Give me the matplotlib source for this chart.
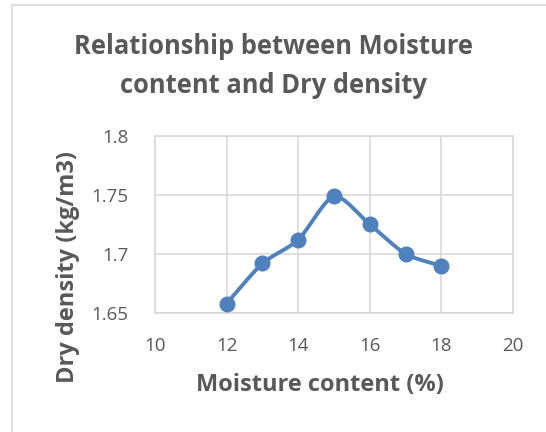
import numpy as np
from matplotlib import pyplot as plt
from matplotlib.path import Path
from matplotlib.patches import PathPatch, Rectangle

# data
moisture = [12, 13, 14, 15, 16, 17, 18]
dry_density = [1.658, 1.692, 1.712, 1.749, 1.725, 1.700, 1.690]
x_ticks = [10, 12, 14, 16, 18, 20]
y_ticks = [1.65, 1.7, 1.75, 1.8]
y_tick_labels = ['1.65', '1.7', '1.75', '1.8']

blue = '#4f81bd'
grey_txt = '#595959'
grid_c = '#d9d9d9'

plt.rcParams['font.family'] = ['Open Sans', 'DejaVu Sans']

fig = plt.figure(figsize=(5.46, 4.32), dpi=100)
# outer chart border (excel style)
fig.patches.append(Rectangle((12/546, -0.1), 1.2, (432-5)/432 + 0.1, transform=fig.transFigure,
                             fill=False, edgecolor=grid_c, linewidth=1.2))

ax = fig.add_axes([155/546, 1 - 313/432, (513-155)/546, (313-136)/432])

# smoothed line, excel-like bezier through the points
pts = np.column_stack([moisture, dry_density])
verts = [tuple(pts[0])]
codes = [Path.MOVETO]
n = len(pts)
for i in range(n - 1):
    p0 = pts[i - 1] if i > 0 else pts[i]
    p1 = pts[i]
    p2 = pts[i + 1]
    p3 = pts[i + 2] if i + 2 < n else pts[i + 1]
    c1 = p1 + (p2 - p0) / 8.0
    c2 = p2 - (p3 - p1) / 8.0
    verts += [tuple(c1), tuple(c2), tuple(p2)]
    codes += [Path.CURVE4] * 3
ax.add_patch(PathPatch(Path(verts, codes), facecolor='none', edgecolor=blue,
                       linewidth=2.8, capstyle='round', joinstyle='round', zorder=3))
ax.plot(moisture, dry_density, 'o', color=blue, markersize=10.5, zorder=4, clip_on=False)

ax.set_xlim(10, 20)
ax.set_ylim(1.65, 1.8)
ax.set_xticks(x_ticks)
ax.set_yticks(y_ticks)
ax.set_yticklabels(y_tick_labels)
ax.grid(True, color=grid_c, linewidth=1.2)
ax.set_axisbelow(True)
for s in ax.spines.values():
    s.set_color(grid_c)
    s.set_linewidth(1.2)
ax.tick_params(length=0, labelsize=13.5, colors=grey_txt)
ax.tick_params(axis='y', pad=19)
ax.tick_params(axis='x', pad=17)

ax.set_xlabel('Moisture content (%)', fontsize=17, fontweight='bold', color=grey_txt)
ax.set_ylabel('Dry density (kg/m3)', fontsize=17, fontweight='bold', color=grey_txt)
ax.xaxis.set_label_coords(0.461, -0.407)
ax.yaxis.set_label_coords(-0.243, 0.26)
ax.xaxis.label.set_va('center')
ax.yaxis.label.set_va('center')

fig.text(0.5, 1 - 66/432, 'Relationship between Moisture\ncontent and Dry density', ha='center', va='center',
         fontsize=18.4, fontweight='bold', color=grey_txt, linespacing=1.6)

fig.savefig('out.png', dpi=100)
